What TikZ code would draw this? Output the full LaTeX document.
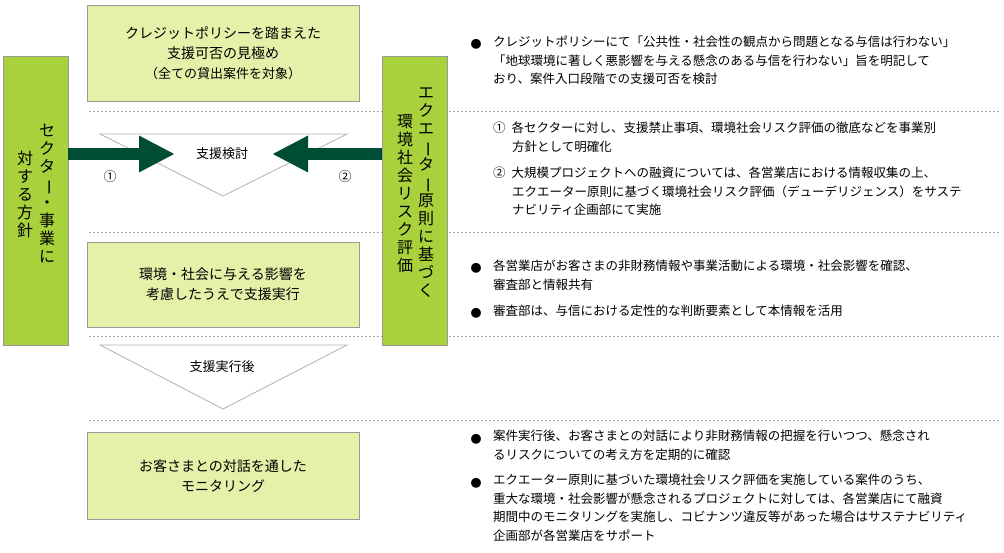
\documentclass[tikz,border=0pt]{standalone}
\usepackage{fontspec}
\usepackage{graphicx}
\setmainfont{Noto Sans CJK JP}
\usetikzlibrary{arrows.meta,positioning}
\definecolor{barGreen}{HTML}{A8D13C}
\definecolor{boxGreen}{HTML}{E6F0A9}
\definecolor{darkGreen}{HTML}{004D36}
\newcommand{\vbar}{\rotatebox[origin=c]{-90}{ー}}
\tikzset{
  stepbox/.style={draw=gray!80, fill=boxGreen, line width=0.8pt, minimum width=272pt, align=center, font=\fontsize{14}{20}\selectfont},
  sidebar/.style={draw=gray!80, fill=barGreen, line width=0.8pt, minimum width=65pt, minimum height=289pt},
  vcol/.style={align=center, inner sep=0pt, font=\fontsize{16}{18}\selectfont, anchor=north},
  sepline/.style={gray!70, dashed, dash pattern=on 2pt off 2pt, line width=0.6pt},
  chev/.style={draw=gray!60, fill=white, line width=0.8pt},
  note/.style={anchor=north west, align=left, inner sep=0pt, font=\fontsize{12.5}{18.5}\selectfont},
  dot/.style={anchor=base, inner sep=0pt, font=\fontsize{11}{18.5}\selectfont},
  bigarrow/.style={darkGreen, line width=12pt, -{Triangle[length=36pt,width=34pt]}}
}
\begin{document}
\begin{tikzpicture}[x=1pt,y=-1pt]
    \useasboundingbox (0,0) rectangle (1004,553);
    % separators
    \foreach \yy in {111,232,336,420}
        \draw[sepline] (89,\yy) -- (1000,\yy);
    % chevrons
    \draw[chev] (100,134) -- (347,134) -- (223,196) -- cycle;
    \draw[chev] (100,345) -- (347,345) -- (223,409) -- cycle;
    \node (review) at (222,154) {\fontsize{13}{16}\selectfont 支援検討};
    \node (after) at (222,367) {\fontsize{13}{16}\selectfont 支援実行後};
    % step boxes
    \node[stepbox, minimum height=96pt] (policy) at (223,53) {クレジットポリシーを踏まえた\\支援可否の見極め\\{\fontsize{13}{18}\selectfont （全ての貸出案件を対象）}};
    \node[stepbox, minimum height=85pt] (execute) at (223,284.5) {環境・社会に与える影響を\\考慮したうえで支援実行};
    \node[stepbox, minimum height=87pt] (monitor) at (223,476) {お客さまとの対話を通した\\モニタリング};
    % side bars
    \node[sidebar] (sector) at (35.5,200.5) {};
    \node[sidebar] (equator) at (414.5,200.5) {};
    \node[vcol] (sectorA) at (47,124) {セ\\ク\\タ\\\vbar\\・\\事\\業\\に};
    \node[vcol] (sectorB) at (25,151) {対\\す\\る\\方\\針};
    \node[vcol] (equatorA) at (426,88) {エ\\ク\\エ\\\vbar\\タ\\\vbar\\原\\則\\に\\基\\づ\\く};
    \node[vcol] (equatorB) at (405,114) {環\\境\\社\\会\\リ\\ス\\ク\\評\\価};
    % arrows
    \coordinate (tipL) at (175,154);
    \coordinate (tipR) at (272,154);
    \draw[bigarrow] (sector.east |- tipL) -- (tipL);
    \draw[bigarrow] (equator.west |- tipR) -- (tipR);
    \node (n1) at (110,177) {\fontsize{13}{16}\selectfont ①};
    \node (n2) at (345,177) {\fontsize{13}{16}\selectfont ②};
    % notes
    \node[dot] (d1) at (476,49) {●};
    \node[note] (t1) at (493,36) {クレジットポリシーにて「公共性・社会性の観点から問題となる与信は行わない」\\「地球環境に著しく悪影響を与える懸念のある与信を行わない」旨を明記して\\おり、案件入口段階での支援可否を検討};
    \node[note] (t2a) at (493,122) {①\hspace{6pt}各セクターに対し、支援禁止事項、環境社会リスク評価の徹底などを事業別\\\hspace{19pt}方針として明確化};
    \node[note] (t2b) at (493,167) {②\hspace{6pt}大規模プロジェクトへの融資については、各営業店における情報収集の上、\\\hspace{19pt}エクエーター原則に基づく環境社会リスク評価（デューデリジェンス）をサステ\\\hspace{19pt}ナビリティ企画部にて実施};
    \node[dot] (d3) at (476,273) {●};
    \node[note] (t3) at (493,260) {各営業店がお客さまの非財務情報や事業活動による環境・社会影響を確認、\\審査部と情報共有};
    \node[dot] (d4) at (476,318) {●};
    \node[note] (t4) at (493,305) {審査部は、与信における定性的な判断要素として本情報を活用};
    \node[dot] (d5) at (476,443) {●};
    \node[note] (t5) at (493,430) {案件実行後、お客さまとの対話により非財務情報の把握を行いつつ、懸念され\\るリスクについての考え方を定期的に確認};
    \node[dot] (d6) at (476,487) {●};
    \node[note] (t6) at (493,474) {エクエーター原則に基づいた環境社会リスク評価を実施している案件のうち、\\重大な環境・社会影響が懸念されるプロジェクトに対しては、各営業店にて融資\\期間中のモニタリングを実施し、コビナンツ違反等があった場合はサステナビリティ\\企画部が各営業店をサポート};
\end{tikzpicture}
\end{document}
